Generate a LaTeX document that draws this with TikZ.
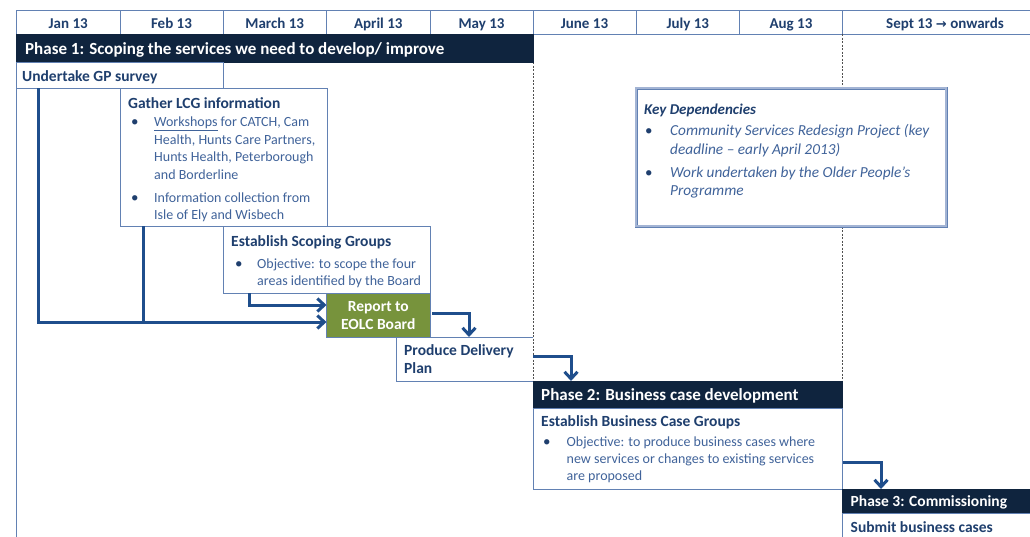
\documentclass[tikz,border=0pt]{standalone}
\usepackage{fontspec}
\setmainfont{Carlito}
\newfontfamily\symfont{DejaVu Sans}
\usetikzlibrary{arrows.meta}
\definecolor{navy}{HTML}{0F243E}
\definecolor{titc}{HTML}{1F3F6E}
\definecolor{bodc}{HTML}{40639A}
\definecolor{bordc}{HTML}{6281B3}
\definecolor{arrc}{HTML}{1F4E8C}
\definecolor{greenc}{HTML}{77933C}
\definecolor{dashc}{HTML}{505050}
\definecolor{dblc}{HTML}{A3B4D4}
\begin{document}
\begin{tikzpicture}[x=1pt,y=-1pt,
  boxs/.style={draw=bordc, line width=0.8pt, fill=white, anchor=north west, inner sep=0pt, outer sep=0pt},
  bar/.style={boxs, fill=navy, draw=navy},
  hdr/.style={font=\fontsize{15}{18}\selectfont\bfseries, text=titc, anchor=base, inner sep=0pt},
  phasetxt/.style={font=\fontsize{17}{20}\selectfont\bfseries, text=white, anchor=base west, inner sep=0pt},
  ttl/.style={font=\fontsize{15.5}{18}\selectfont\bfseries, text=titc, anchor=base west, inner sep=0pt},
  bod/.style={font=\fontsize{14}{17}\selectfont, text=bodc, anchor=base west, inner sep=0pt},
  bul/.style={font=\fontsize{15}{17}\selectfont, text=titc, anchor=base west, inner sep=0pt},
  kdt/.style={font=\fontsize{15.3}{18}\selectfont\itshape, text=bodc, anchor=base west, inner sep=0pt},
  conn/.style={draw=arrc, line width=3pt, -{Straight Barb[length=7pt,width=13pt]}},
  connline/.style={draw=arrc, line width=3pt},
  dashline/.style={draw=dashc, line width=0.8pt, dash pattern=on 2pt off 1.5pt},
  bordline/.style={draw=bordc, line width=0.8pt}
]
\useasboundingbox (0,0) rectangle (1030,536);
\fill[white] (0,0) rectangle (1030,536);

% header cells
\node[boxs, minimum width=103.5pt, minimum height=24pt] (hjan) at (16.5,10) {};
\node[boxs, minimum width=103pt, minimum height=24pt] (hfeb) at (120,10) {};
\node[boxs, minimum width=103.5pt, minimum height=24pt] (hmar) at (223,10) {};
\node[boxs, minimum width=103.5pt, minimum height=24pt] (hapr) at (326.5,10) {};
\node[boxs, minimum width=103pt, minimum height=24pt] (hmay) at (430,10) {};
\node[boxs, minimum width=103pt, minimum height=24pt] (hjun) at (533,10) {};
\node[boxs, minimum width=106.5pt, minimum height=24pt] (hjul) at (636,10) {};
\node[boxs, minimum width=103pt, minimum height=24pt] (haug) at (739.5,10) {};
\node[boxs, minimum width=200pt, minimum height=24pt] (hsep) at (842.5,10) {};
\node[hdr] (tjan) at (68.25,28.3) {Jan 13};
\node[hdr] (tfeb) at (171.5,28.3) {Feb 13};
\node[hdr] (tmar) at (274.75,28.3) {March 13};
\node[hdr] (tapr) at (378.25,28.3) {April 13};
\node[hdr] (tmay) at (481.5,28.3) {May 13};
\node[hdr] (tjun) at (584.5,28.3) {June 13};
\node[hdr] (tjul) at (687.75,28.3) {July 13};
\node[hdr] (taug) at (791,28.3) {Aug 13};
\node[hdr] (tsep) at (945,28.3) {Sept 13 {\symfont\fontsize{13}{15}\selectfont\bfseries →} onwards};

% dashed month guides
\draw[dashline] (533,62) -- (533,381);
\draw[dashline] (842.5,34) -- (842.5,381);

% left line
\draw[bordline] (16.5,62) -- (16.5,540);

% phase 1
\node[bar, minimum width=516.5pt, minimum height=28pt] (phase1) at (16.5,34) {};
\node[phasetxt] (tphase1) at (25,54) {Phase 1: Scoping the services we need to develop/ improve};

% GP survey
\node[boxs, minimum width=206.5pt, minimum height=26pt] (gp) at (16.5,62) {};
\node[ttl] (tgp) at (22,81) {Undertake GP survey};

% LCG
\node[boxs, minimum width=207pt, minimum height=138pt] (lcg) at (120,88) {};
\node[ttl] (tlcg) at (128,108.3) {Gather LCG information};
\node[bul] (b1) at (131,126.7) {\textbullet};
\node[bod] (l1a) at (154,126.7) {\underline{Workshops} for CATCH, Cam};
\node[bod] (l1b) at (154,144.3) {Health, Hunts Care Partners,};
\node[bod] (l1c) at (154,161.7) {Hunts Health, Peterborough};
\node[bod] (l1d) at (154,179) {and Borderline};
\node[bul] (b2) at (131,202.7) {\textbullet};
\node[bod] (l2a) at (154,202.7) {Information collection from};
\node[bod] (l2b) at (154,219) {Isle of Ely and Wisbech};

% Scoping
\node[boxs, minimum width=207pt, minimum height=67pt] (scope) at (223,226) {};
\node[ttl] (tscope) at (231,246) {Establish Scoping Groups};
\node[bul] (b3) at (235,268.5) {\textbullet};
\node[bod] (l3a) at (257,268.5) {Objective: to scope the four};
\node[bod] (l3b) at (257,285.5) {areas identified by the Board};

% Report
\node[boxs, fill=greenc, minimum width=103.5pt, minimum height=44pt] (report) at (326.5,293) {};
\node[ttl, text=white, anchor=base] (trep1) at (378.25,311) {Report to};
\node[ttl, text=white, anchor=base] (trep2) at (378.25,329) {EOLC Board};

% Delivery plan
\node[boxs, draw=none, minimum width=137pt, minimum height=44pt] (deliv) at (396,337) {};
\draw[bordline] (deliv.north east) -- (deliv.north west) -- (deliv.south west) -- (deliv.south east);
\node[ttl] (tdel1) at (404,355) {Produce Delivery};
\node[ttl] (tdel2) at (404,373) {Plan};

% Phase 2
\node[bar, minimum width=309.5pt, minimum height=27pt] (phase2) at (533,381) {};
\node[phasetxt] (tphase2) at (541,400.7) {Phase 2: Business case development};
\node[boxs, minimum width=309.5pt, minimum height=81pt] (bcase) at (533,408) {};
\node[ttl] (tbc) at (541,426) {Establish Business Case Groups};
\node[bul] (b4) at (543,446) {\textbullet};
\node[bod] (l4a) at (566.5,446) {Objective: to produce business cases where};
\node[bod] (l4b) at (566.5,463.3) {new services or changes to existing services};
\node[bod] (l4c) at (566.5,480.5) {are proposed};

% Phase 3
\node[bar, minimum width=200pt, minimum height=24pt] (phase3) at (842.5,489) {};
\node[phasetxt, font=\fontsize{15.5}{18}\selectfont\bfseries] (tphase3) at (850.5,506.7) {Phase 3: Commissioning};
\node[boxs, minimum width=200pt, minimum height=40pt] (submit) at (842.5,513) {};
\node[ttl] (tsub) at (850.5,532.3) {Submit business cases};

% Key dependencies
\node[boxs, draw=bordc, line width=0.6pt, double=dblc, double distance=1.8pt, minimum width=310pt, minimum height=138pt] (keydep) at (636,88) {};
\node[kdt, font=\fontsize{15}{18}\selectfont\bfseries\itshape, text=titc] (tkd) at (644,114) {Key Dependencies};
\node[bul] (b5) at (645,135) {\textbullet};
\node[kdt] (k1a) at (670,135) {Community Services Redesign Project (key};
\node[kdt] (k1b) at (670,154) {deadline – early April 2013)};
\node[bul] (b6) at (645,177.3) {\textbullet};
\node[kdt] (k2a) at (670,177.3) {Work undertaken by the Older People’s};
\node[kdt] (k2b) at (670,195.5) {Programme};

% connectors
\coordinate (j1) at (38,322);
\coordinate (j2) at (143,322);
\coordinate (j3) at (249,305);
\coordinate (j4) at (469,313);
\coordinate (j5) at (571,356);
\coordinate (j6) at (881,462);
\draw[conn] (gp.south west -| j1) -- (j1) -- (j1 -| report.west);
\draw[connline] (lcg.south west -| j2) -- (j2);
\draw[conn] (scope.south west -| j3) -- (j3) -- (j3 -| report.west);
\draw[conn] ([xshift=2pt]report.east |- j4) -- (j4) -- (j4 |- deliv.north);
\draw[conn] (j5 -| deliv.east) -- (j5) -- (j5 |- phase2.north);
\draw[conn] (j6 -| bcase.east) -- (j6) -- (j6 |- phase3.north);
\end{tikzpicture}
\end{document}
